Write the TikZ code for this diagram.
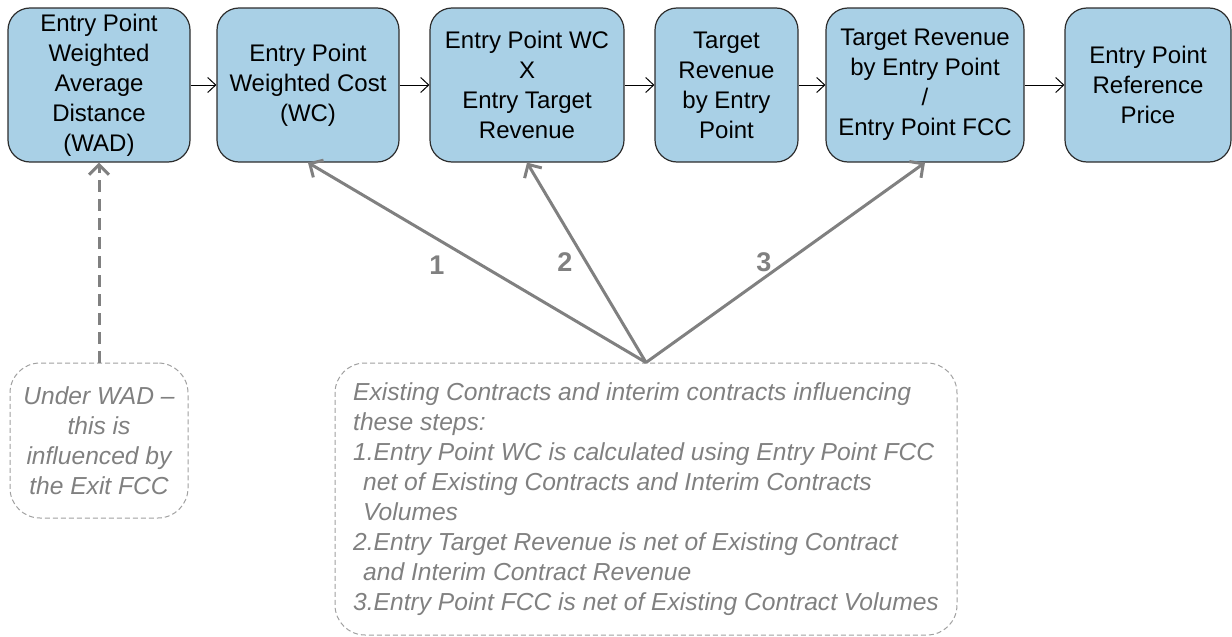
\documentclass[tikz,border=0pt]{standalone}
\usepackage{fontspec}
\setmainfont{Liberation Sans}
\usetikzlibrary{arrows.meta}
\definecolor{boxblue}{RGB}{169,208,230}
\definecolor{boxedge}{RGB}{45,45,45}
\definecolor{linegray}{RGB}{128,128,128}
\definecolor{dashgray}{RGB}{160,160,160}
\definecolor{notegray}{RGB}{128,128,128}
\begin{document}
\begin{tikzpicture}[x=1pt,y=-1pt,
  stepbox/.style={draw=boxedge, line width=1.2pt, fill=boxblue, rounded corners=22pt,
    align=center, inner sep=0pt, minimum height=154pt,
    font=\fontsize{24}{30}\selectfont, text=black},
  flow/.style={draw=black, line width=1pt, -{Straight Barb[length=8pt,width=15pt]}},
  notebox/.style={draw=dashgray, dash pattern=on 5pt off 3pt, line width=1pt,
    rounded corners=30pt, inner sep=0pt,
    font=\fontsize{24.6}{30}\selectfont\itshape, text=notegray},
  influence/.style={draw=linegray, line width=3pt, -{Straight Barb[length=10pt,width=20pt]}},
  numlabel/.style={font=\fontsize{27}{30}\selectfont\bfseries, text=linegray}]
\useasboundingbox (0,0) rectangle (1232,637);

% process boxes
\node[stepbox, minimum width=182pt] (b1) at (99,85) {Entry Point\\Weighted\\Average\\Distance\\(WAD)};
\node[stepbox, minimum width=182pt] (b2) at (308,85) {Entry Point\\Weighted Cost\\(WC)};
\node[stepbox, minimum width=194pt] (b3) at (527,85) {Entry Point WC\\X\\Entry Target\\Revenue};
\node[stepbox, minimum width=143pt] (b4) at (726.5,85) {Target\\Revenue\\by Entry\\Point};
\node[stepbox, minimum width=198pt] (b5) at (925,85) {Target Revenue\\by Entry Point\\/\\Entry Point FCC};
\node[stepbox, minimum width=166pt] (b6) at (1148,85) {Entry Point\\Reference\\Price};

\draw[flow] (b1) -- (b2);
\draw[flow] (b2) -- (b3);
\draw[flow] (b3) -- (b4);
\draw[flow] (b4) -- (b5);
\draw[flow] (b5) -- (b6);

% notes
\node[notebox, minimum width=178pt, minimum height=155pt, align=center] (wadnote) at (99,440.5)
  {Under WAD –\\this is\\influenced by\\the Exit FCC};
\node[notebox, minimum width=622pt, minimum height=272pt, align=left] (note) at (646,499)
  {Existing Contracts and interim contracts influencing\\
   these steps:\\
   1.Entry Point WC is calculated using Entry Point FCC\\
   \hspace*{10pt}net of Existing Contracts and Interim Contracts\\
   \hspace*{10pt}Volumes\\
   2.Entry Target Revenue is net of Existing Contract\\
   \hspace*{10pt}and Interim Contract Revenue\\
   3.Entry Point FCC is net of Existing Contract Volumes};

% influence arrows
\draw[influence, dash pattern=on 12pt off 7pt] (wadnote.north) -- (b1.south);
\draw[influence] (note.north) -- (b2.south);
\draw[influence] (note.north) -- (b3.south);
\draw[influence] (note.north) -- (b5.south);

\node[numlabel] (n1) at (437,265) {1};
\node[numlabel] (n2) at (565,262) {2};
\node[numlabel] (n3) at (764,262) {3};
\end{tikzpicture}
\end{document}
